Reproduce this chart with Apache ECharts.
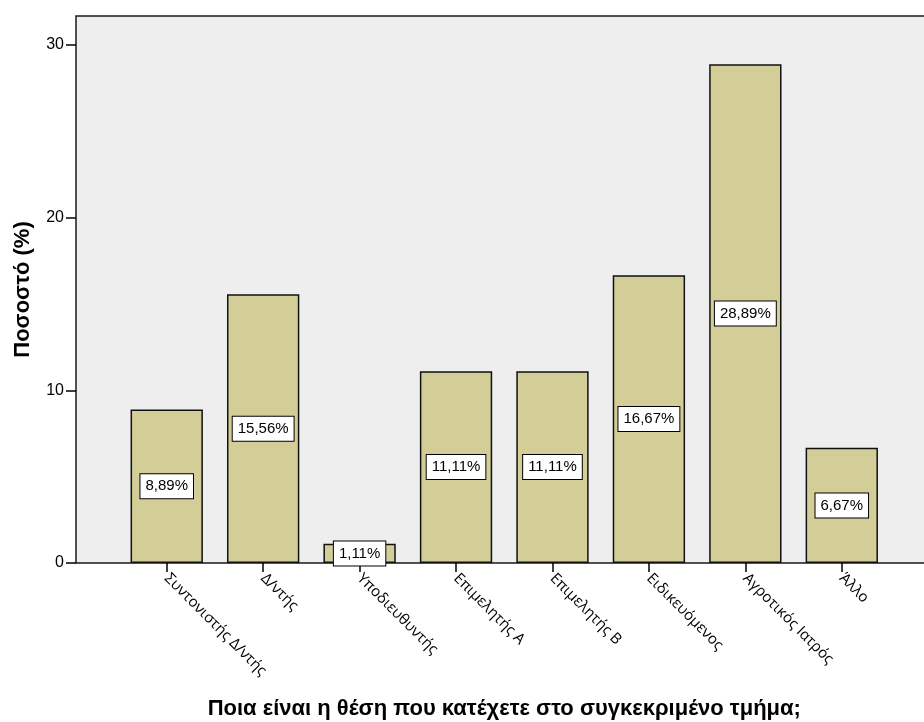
<!DOCTYPE html>
<html>
<head>
<meta charset="utf-8">
<script src="https://cdn.jsdelivr.net/npm/echarts@6/dist/echarts.min.js"></script>
<style>
  html, body { margin: 0; padding: 0; background: #fff; }
  #chart { width: 924px; height: 722px; }
</style>
</head>
<body>
<div id="chart"></div>
<script>
// Position held in the department (categories) and share of respondents (%)
const categories = [
  'Συντονιστής Δ/ντής',
  'Δ/ντής',
  'Υποδιευθυντής',
  'Επιμελητής Α',
  'Επιμελητής Β',
  'Ειδικευόμενος',
  'Αγροτικός Ιατρός',
  'Άλλο'
];
const percentages = [8.89, 15.56, 1.11, 11.11, 11.11, 16.67, 28.89, 6.67];
const yTicks = [0, 10, 20, 30];

const xTitle = 'Ποια είναι η θέση που κατέχετε στο συγκεκριμένο τμήμα;';
const yTitle = 'Ποσοστό (%)';

const chart = echarts.init(document.getElementById('chart'), null, { renderer: 'canvas' });

const gridLeft = 118.5, gridRight = 34, gridTop = 16, gridBottom = 159;
const frameLeft = 76;

chart.setOption({
  animation: false,
  backgroundColor: '#ffffff',
  graphic: [{
    type: 'rect',
    z: -10,
    silent: true,
    shape: { x: frameLeft, y: gridTop, width: 924 - frameLeft + 10, height: 722 - gridTop - gridBottom },
    style: { fill: '#eeeeee', stroke: '#1a1a1a', lineWidth: 1.5 }
  }],
  grid: {
    left: gridLeft, right: gridRight, top: gridTop, bottom: gridBottom,
    containLabel: false,
    outerBoundsMode: 'none'
  },
  xAxis: {
    type: 'category',
    data: categories,
    axisLine: { show: false },
    axisTick: { show: true, alignWithLabel: true, length: 9, lineStyle: { color: '#000', width: 1.5 } },
    axisLabel: {
      rotate: -45,
      margin: 13,
      interval: 0,
      color: '#000',
      fontFamily: 'Open Sans, DejaVu Sans, sans-serif',
      fontSize: 15
    },
    name: xTitle,
    nameLocation: 'middle',
    nameGap: 135,
    nameTextStyle: { color: '#000', fontWeight: 'bold', fontSize: 22, fontFamily: 'Liberation Sans, Arial, sans-serif' }
  },
  yAxis: {
    type: 'value',
    min: 0,
    max: 31.68,
    interval: 10,
    offset: gridLeft - frameLeft,
    splitLine: { show: false },
    axisLine: { show: false },
    axisTick: { show: true, length: 10, customValues: yTicks, lineStyle: { color: '#000', width: 1.5 } },
    axisLabel: {
      margin: 12,
      color: '#000',
      customValues: yTicks,
      fontFamily: 'Liberation Sans, Arial, sans-serif',
      fontSize: 16
    },
    name: yTitle,
    nameLocation: 'middle',
    nameGap: 42,
    nameRotate: 90,
    nameTextStyle: { color: '#000', fontWeight: 'bold', fontSize: 22, fontFamily: 'Liberation Sans, Arial, sans-serif' }
  },
  series: [{
    type: 'bar',
    data: percentages,
    barWidth: '75%',
    itemStyle: { color: '#d3ce97', borderColor: '#111', borderWidth: 1.5 },
    label: {
      show: true,
      position: 'inside',
      color: '#000',
      fontFamily: 'Liberation Sans, Arial, sans-serif',
      fontSize: 15,
      backgroundColor: '#ffffff',
      borderColor: '#000',
      borderWidth: 1,
      padding: [5, 5, 4, 5],
      formatter: p => p.value.toFixed(2).replace('.', ',') + '%'
    }
  }]
});
</script>
</body>
</html>
